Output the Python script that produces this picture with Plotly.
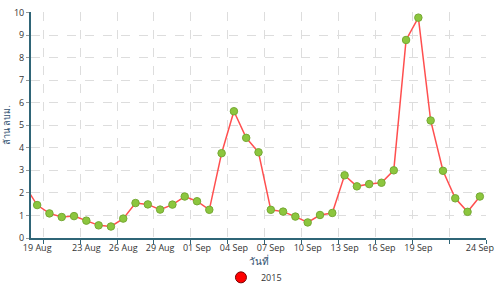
import pandas as pd
import plotly.graph_objects as go

# Data (million m3 per day)
dates = pd.date_range("2015-08-18", "2015-09-24", freq="D")
values = [2.31,
          1.46, 1.09, 0.93, 0.97, 0.77, 0.56, 0.51, 0.86, 1.55, 1.49, 1.26, 1.48, 1.84,
          1.63, 1.25, 3.76, 5.62, 4.44, 3.80, 1.25, 1.17, 0.95, 0.69, 1.02, 1.11,
          2.78, 2.29, 2.39, 2.45, 3.00, 8.78, 9.77, 5.21, 2.98, 1.76, 1.16, 1.84]
series_name = "2015"

label_dates = pd.to_datetime(["2015-08-19", "2015-08-23", "2015-08-26", "2015-08-29",
                              "2015-09-01", "2015-09-04", "2015-09-07", "2015-09-10",
                              "2015-09-13", "2015-09-16", "2015-09-19", "2015-09-24"])
tick_labels = [d.strftime("%d %b") for d in label_dates]
grid_dates = pd.date_range("2015-08-19 12:00", periods=13, freq="3D")
x_range = ["2015-08-18 12:00", "2015-09-24 12:00"]
y_ticks = list(range(0, 11))

axis_color = "#2f6577"
grid_color = "#dddddd"
font = dict(family="Open Sans", size=9, color="#333333")

fig = go.Figure()
fig.add_trace(go.Scatter(
    x=dates, y=values, mode="lines+markers", showlegend=False,
    line=dict(color="#ff4f4f", width=1.5),
    marker=dict(size=7.5, color="#8cc63e", line=dict(color="#76a934", width=1)),
    cliponaxis=True,
))
fig.add_trace(go.Scatter(
    x=[None], y=[None], mode="markers", name=series_name,
    marker=dict(size=11, color="#ff0000", line=dict(color="#7a0000", width=1)),
))

fig.update_layout(
    width=500, height=298,
    margin=dict(l=28, r=8, t=6, b=44),
    paper_bgcolor="white", plot_bgcolor="white",
    font=font,
    legend=dict(orientation="h", x=0.49, xanchor="center", y=-0.11, yanchor="top",
                font=dict(family="Open Sans", size=9, color="#333333")),
    xaxis=dict(
        range=x_range, type="date",
        tickmode="array", tickvals=label_dates, ticktext=tick_labels,
        ticks="", showgrid=False, zeroline=False,
        showline=True, linecolor=axis_color, linewidth=2,
        ticklabeloverflow="allow",
        tickfont=dict(family="Open Sans", size=9, color="#333333"),
        minor=dict(tickmode="array", tickvals=grid_dates, showgrid=True,
                   gridcolor=grid_color, griddash="dash", gridwidth=1,
                   ticks="outside", ticklen=4, tickcolor=axis_color, tickwidth=1),
        title=dict(text="วันที่", standoff=4,
                   font=dict(family="Open Sans", size=10, color="#2f4f6f")),
    ),
    yaxis=dict(
        range=[0, 10.02], tickmode="array", tickvals=y_ticks,
        showgrid=True, gridcolor=grid_color, griddash="dash", gridwidth=1,
        zeroline=False,
        showline=True, linecolor=axis_color, linewidth=2,
        ticks="outside", ticklen=3, tickcolor="#999999",
        ticklabeloverflow="allow",
        tickfont=dict(family="Open Sans", size=9, color="#333333"),
        title=dict(text="ล้าน ลบม.", standoff=2,
                   font=dict(family="Open Sans", size=9, color="#2f4f6f")),
    ),
)

fig.write_html("out.html")
